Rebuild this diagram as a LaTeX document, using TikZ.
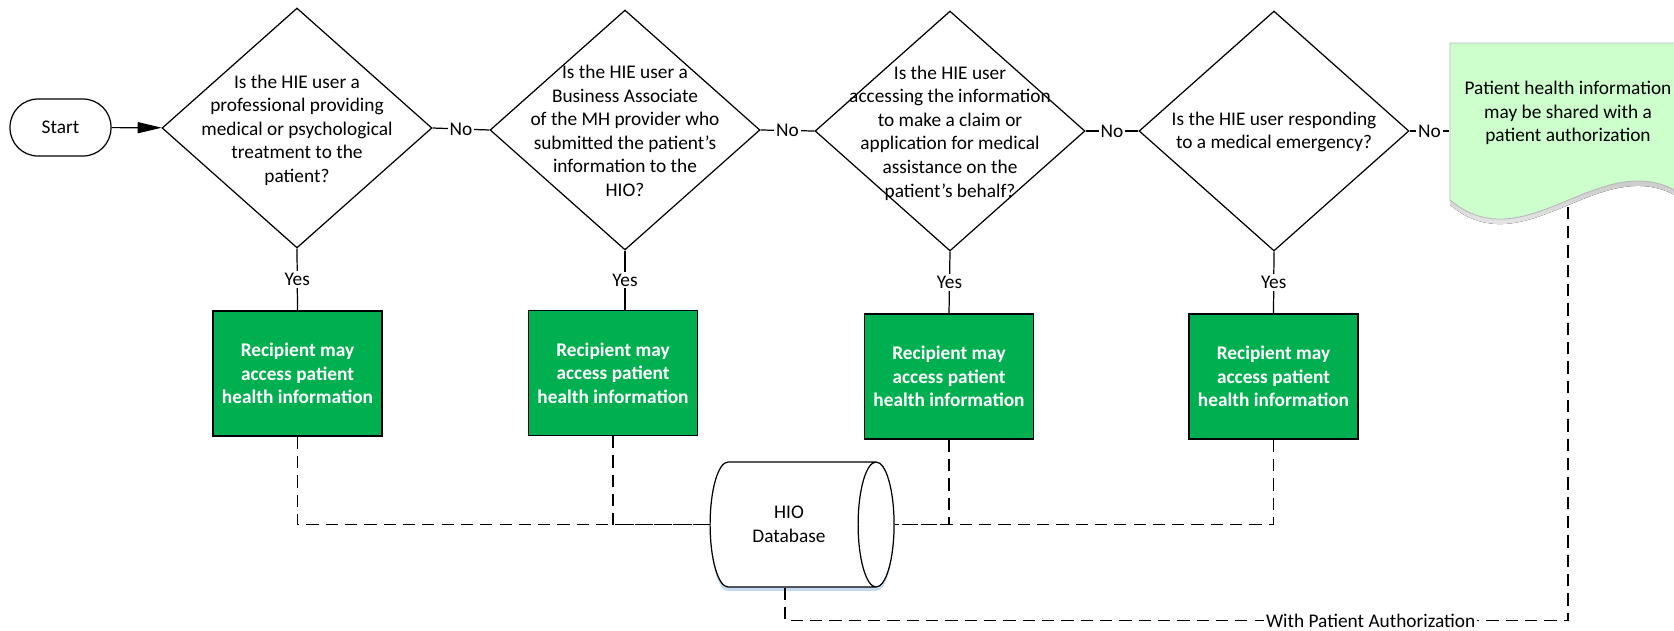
\documentclass[tikz,border=0pt]{standalone}
\usepackage{fontspec}
\setmainfont{Carlito}
\usetikzlibrary{shapes.geometric,arrows.meta,calc,shadows}
\definecolor{okgreen}{HTML}{00B050}
\definecolor{docgreen}{HTML}{CCFFCC}
\definecolor{shade}{HTML}{C5D9F1}

\begin{document}
\begin{tikzpicture}[x=0.02cm, y=-0.02cm, line width=0.7pt,
    every node/.style={font=\fontsize{11}{13.4}\selectfont},
    q/.style={diamond, draw, minimum width=5.4cm, minimum height=4.8cm, inner sep=0pt},
    qt/.style={align=center},
    ok/.style={draw, fill=okgreen, text=white, align=center,
      font=\fontsize{11}{13.4}\selectfont\bfseries, minimum width=3.38cm, minimum height=2.5cm},
    lbl/.style={fill=white, inner sep=1pt},
    link/.style={dash pattern=on 7pt off 4pt}]
    \useasboundingbox (0,0) rectangle (1674,630);

    \fill[shade] (1450,48) -- (1690,48) -- (1690,205) .. controls (1607,139) and (1529,271) .. (1450,205) -- cycle;
    \filldraw[draw=gray!55, fill=docgreen, line width=0.5pt] (1450,43) -- (1690,43) -- (1690,200) .. controls (1607,134) and (1529,266) .. (1450,200) -- cycle;

    \node[draw, rounded corners=0.56cm, minimum width=2.02cm, minimum height=1.14cm] (s) at (60.5,127.5) {Start};
    \node[q] (d1) at (297,128) {};
    \node[q] (d2) at (625,130) {};
    \node[q] (d3) at (950,131) {};
    \node[q] (d4) at (1274,131) {};
    \node[qt] (t1) at (297,130) {Is the HIE user a\\professional providing\\medical or psychological\\treatment to the\\patient?};
    \node[qt] (t2) at (625,131) {Is the HIE user a\\Business Associate\\of the MH provider who\\submitted the patient’s\\information to the\\HIO?};
    \node[qt] (t3) at (950,133) {Is the HIE user\\accessing the information\\to make a claim or\\application for medical\\assistance on the\\patient’s behalf?};
    \node[qt] (t4) at (1274,132) {Is the HIE user responding\\to a medical emergency?};
    \node[ok] (r1) at (297.5,373.5) {Recipient may\\access patient\\health information};
    \node[ok] (r2) at (613,373) {Recipient may\\access patient\\health information};
    \node[ok] (r3) at (949,376.5) {Recipient may\\access patient\\health information};
    \node[ok] (r4) at (1273.5,376.5) {Recipient may\\access patient\\health information};
    \node[cylinder, draw, fill=white, shape border rotate=0, aspect=0.75, minimum width=2.5cm, minimum height=3.68cm,
      align=center, drop shadow={shadow xshift=0pt, shadow yshift=-0.08cm, fill=shade, opacity=1}] (db) at (789,524.5) {HIO\\Database};
    \node[minimum width=4.72cm, minimum height=2.8cm, align=center] (p) at (1568,113) {Patient health information\\may be shared with a\\patient authorization};
    \coordinate (tap) at ([xshift=-0.08cm]db.south);
    \coordinate (foot) at (1568,200);

    \draw [-{Triangle[length=0.48cm, width=0.22cm]}] (s) to (d1);
    \draw (d1.east) to node[lbl] {No} (d2.west);
    \draw (d2.east) to node[lbl] {No} (d3.west);
    \draw (d3.east) to node[lbl] {No} (d4.west);
    \draw (d4.east) to node[lbl] {No} (d4.east -| p.west);
    \draw (d1.south) to node[lbl] {Yes} (r1.north);
    \draw (d2.south) to node[lbl] {Yes} (d2.south |- r2.north);
    \draw (d3.south) to node[lbl] {Yes} (r3.north);
    \draw (d4.south) to node[lbl] {Yes} (r4.north);
    \draw [link] (r1.south) |- (db.west);
    \draw [link] (r2.south) |- (db.west);
    \draw [link] (r3.south) |- (db.east);
    \draw [link] (r4.south) |- (db.east);
    \draw [link] (tap) -- ++(0,33) -| node[lbl, pos=0.374] {With Patient Authorization} (foot);
\end{tikzpicture}
\end{document}
